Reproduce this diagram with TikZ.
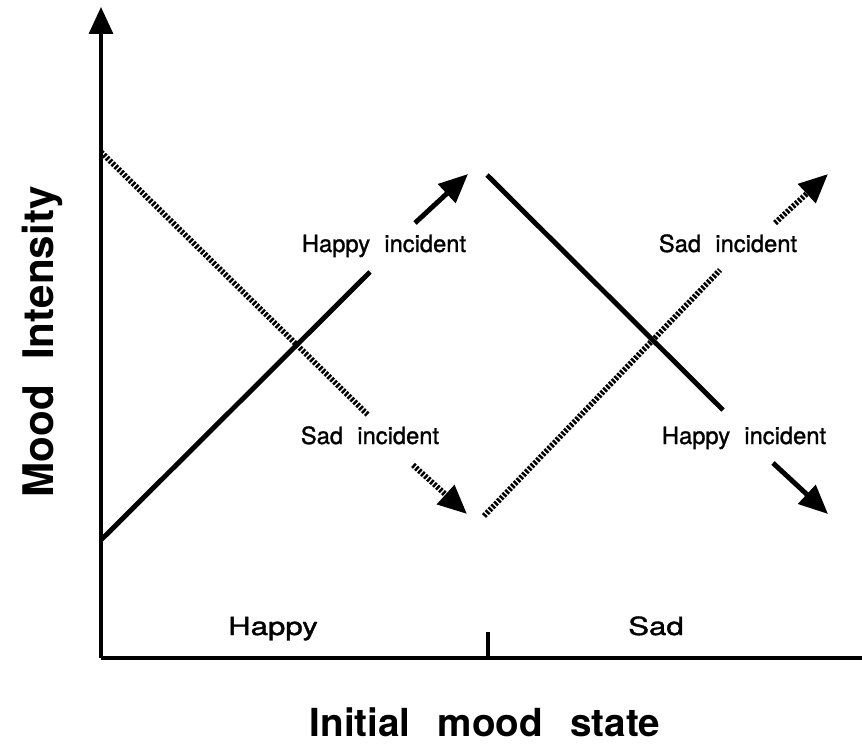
\documentclass[tikz,border=0pt]{standalone}
\usepackage{fontspec}
\setmainfont{TeX Gyre Heros}
\newfontfamily\scanfont[FakeBold=1.2]{TeX Gyre Heros}
\usepackage{tikz}
\usetikzlibrary{positioning, arrows.meta}

\begin{document}
\begin{tikzpicture}[
  x=0.02cm, y=-0.02cm,
  axis/.style={line width=1.9pt, line cap=butt},
  axisarr/.style={line width=1.9pt, -{Triangle[length=0.54cm, width=0.48cm]}},
  solidln/.style={line width=2.8pt},
  hatchln/.style={line width=3.2pt, dash pattern=on 1.4pt off 0.9pt},
  arr/.style={line width=2.8pt, -{Triangle[length=0.58cm, width=0.5cm]}},
  hatcharr/.style={hatchln, -{Triangle[length=0.58cm, width=0.5cm]}},
  incident/.style={anchor=base, font=\fontsize{13.5}{15}\scanfont},
  state/.style={anchor=base, font=\fontsize{14.2}{16}\scanfont},
  axlabel/.style={anchor=base, font=\fontsize{22}{24}\selectfont\bfseries}
]
  \useasboundingbox (0,0) rectangle (862,746);

  % Axes
  \coordinate (origin) at (101,658);
  \coordinate (ytop)   at (101,7);
  \coordinate (xend)   at (862,658);
  \coordinate (tickup) at (488,632);
  \coordinate (tickdn) at (488,658);
  \draw[axisarr] (origin) -- (ytop);
  \draw[axis] (origin) -- (xend);
  \draw[axis] (tickdn) -- (tickup);

  % Left half: initially happy
  \coordinate (happyA) at (101,540);
  \coordinate (happyB) at (370,272);
  \coordinate (happyC) at (415,223);
  \coordinate (happyD) at (468,174);
  \coordinate (sadA)   at (101,152);
  \coordinate (sadB)   at (368,415);
  \coordinate (sadC)   at (413,465);
  \coordinate (sadD)   at (467,514);
  \draw[solidln] (happyA) -- (happyB);
  \draw[arr] (happyC) -- (happyD);
  \draw[hatchln] (sadA) -- (sadB);
  \draw[hatcharr] (sadC) -- (sadD);

  % Right half: initially sad
  \coordinate (rhappyA) at (487,175);
  \coordinate (rhappyB) at (723,410);
  \coordinate (rhappyC) at (773,463);
  \coordinate (rhappyD) at (828,514);
  \coordinate (rsadA)   at (484,516);
  \coordinate (rsadB)   at (720,270);
  \coordinate (rsadC)   at (775,223);
  \coordinate (rsadD)   at (828,174);
  \draw[solidln] (rhappyA) -- (rhappyB);
  \draw[arr] (rhappyC) -- (rhappyD);
  \draw[hatchln] (rsadA) -- (rsadB);
  \draw[hatcharr] (rsadC) -- (rsadD);

  % Labels
  \node[incident] (lhappy) at (384,252) {Happy\hspace{0.6em}incident};
  \node[incident] (lsad)   at (370,444) {Sad\hspace{0.6em}incident};
  \node[incident] (rhappy) at (744,444) {Happy\hspace{0.6em}incident};
  \node[incident] (rsad)   at (728,252) {Sad\hspace{0.6em}incident};
  \node[state] (happy) at (273,635) {\scalebox{1.25}[1]{Happy}};
  \node[state] (sad)   at (656,635) {\scalebox{1.25}[1]{Sad}};
  \node[axlabel] (xlab) at (485,736) {Initial\hspace{0.7em}mood\hspace{0.7em}state};
  \node[axlabel, rotate=90, font=\fontsize{24}{26}\selectfont\bfseries] (ylab) at (53,342) {Mood\hspace{0.6em}Intensity};
\end{tikzpicture}
\end{document}
